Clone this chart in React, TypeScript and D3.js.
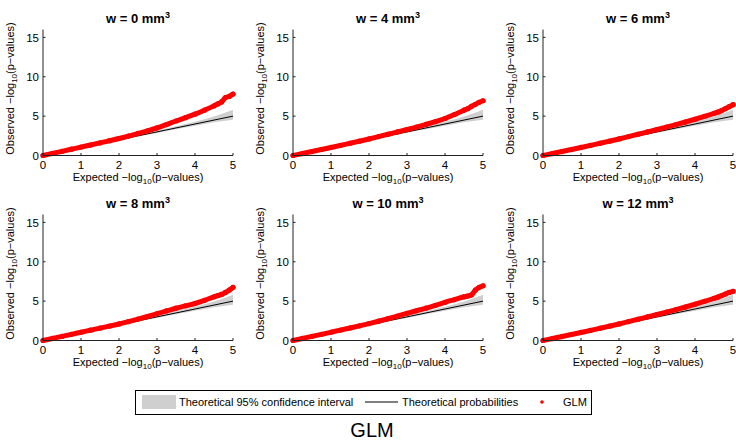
import React from "react";
import * as d3 from "d3";

// ---- data ----
const PANEL_W = ["0", "4", "6", "8", "10", "12"];
const EXPECTED = [0, 0.25, 0.5, 0.75, 1, 1.25, 1.5, 1.75, 2, 2.25, 2.5, 2.75, 3, 3.25, 3.5, 3.75, 4, 4.25, 4.5, 4.6, 4.7, 4.8, 4.9, 5];
const OBS_W0 = [0, 0.27, 0.53, 0.8, 1.07, 1.33, 1.6, 1.88, 2.16, 2.47, 2.8, 3.13, 3.5, 3.93, 4.38, 4.8, 5.25, 5.75, 6.3, 6.55, 6.8, 7.35, 7.5, 7.8];
const OBS_W4 = [0, 0.25, 0.5, 0.76, 1.02, 1.28, 1.55, 1.82, 2.1, 2.4, 2.7, 3.0, 3.3, 3.6, 3.95, 4.3, 4.7, 5.2, 5.75, 5.95, 6.25, 6.5, 6.75, 6.95];
const OBS_W6 = [0, 0.25, 0.5, 0.76, 1.02, 1.28, 1.55, 1.82, 2.1, 2.4, 2.7, 3.0, 3.3, 3.6, 3.92, 4.25, 4.6, 4.97, 5.35, 5.5, 5.7, 5.95, 6.2, 6.45];
const OBS_W8 = [0, 0.26, 0.52, 0.78, 1.05, 1.31, 1.57, 1.83, 2.1, 2.4, 2.72, 3.05, 3.4, 3.75, 4.1, 4.4, 4.7, 5.1, 5.55, 5.7, 5.85, 6.1, 6.4, 6.75];
const OBS_W10 = [0, 0.26, 0.52, 0.78, 1.05, 1.32, 1.59, 1.86, 2.15, 2.45, 2.77, 3.1, 3.45, 3.78, 4.1, 4.47, 4.85, 5.2, 5.55, 5.65, 5.8, 6.4, 6.75, 6.95];
const OBS_W12 = [0, 0.25, 0.5, 0.76, 1.02, 1.28, 1.55, 1.82, 2.1, 2.4, 2.7, 3.0, 3.3, 3.6, 3.92, 4.25, 4.6, 4.97, 5.35, 5.5, 5.7, 5.9, 6.1, 6.25];
const OBSERVED = [OBS_W0, OBS_W4, OBS_W6, OBS_W8, OBS_W10, OBS_W12];
const CI_X = [0, 0.5, 1, 1.5, 2, 2.5, 3, 3.5, 4, 4.5, 5];
const CI_UPPER = [0.05, 0.55, 1.07, 1.58, 2.1, 2.62, 3.15, 3.72, 4.3, 4.95, 5.8];
const CI_LOWER = [0, 0.47, 0.95, 1.43, 1.9, 2.38, 2.85, 3.32, 3.78, 4.22, 4.55];
const REF_X = [0, 5];
const X_TICKS = [0, 1, 2, 3, 4, 5];
const Y_TICKS = [0, 5, 10, 15];

const FONT = "'Liberation Sans', Arial, Helvetica, sans-serif";
const COL_LEFT = [43, 293, 543];
const ROW_BOTTOM = [155.5, 340.5];
const PW = 190;
const PH = 126;

function Panel({ idx }: { idx: number }) {
  const left = COL_LEFT[idx % 3];
  const bottom = ROW_BOTTOM[Math.floor(idx / 3)];
  const x = d3.scaleLinear().domain([0, 5]).range([left, left + PW]);
  const y = d3.scaleLinear().domain([0, 16]).range([bottom, bottom - PH]);
  const obs = OBSERVED[idx];
  const pts = EXPECTED.map((e, i) => [e, obs[i]] as [number, number]);
  const line = d3.line<[number, number]>().x(d => x(d[0])).y(d => y(d[1])).curve(d3.curveMonotoneX);
  const area = d3.area<number>().x(d => x(d)).y0((d, i) => y(CI_LOWER[i])).y1((d, i) => y(CI_UPPER[i])).curve(d3.curveMonotoneX);
  const cx = left + PW / 2;
  return (
    <g>
      <text x={cx} y={bottom - 133} textAnchor="middle" fontFamily={FONT} fontSize={13} fontWeight="bold">
        w = {PANEL_W[idx]} mm<tspan fontSize={9} dy={-5}>3</tspan>
      </text>
      <path d={area(CI_X) || ""} fill="#cfcfcf" stroke="none" />
      <path d={d3.line<number>().x(d => x(d)).y(d => y(d))(REF_X) || ""} stroke="#000" strokeWidth={1} fill="none" />
      <path d={line(pts) || ""} stroke="#ff0000" strokeWidth={5} fill="none" strokeLinecap="round" strokeLinejoin="round" />
      {pts.map((p, i) => (
        <circle key={i} cx={x(p[0])} cy={y(p[1])} r={2.6} fill="#ff0000" />
      ))}
      <line x1={left} x2={left} y1={y(16)} y2={bottom} stroke="#222" strokeWidth={1} />
      <line x1={left} x2={left + PW} y1={bottom} y2={bottom} stroke="#222" strokeWidth={1} />
      {X_TICKS.map(t => (
        <g key={"x" + t}>
          <line x1={x(t)} x2={x(t)} y1={bottom} y2={bottom - 2.5} stroke="#222" />
          <text x={x(t)} y={bottom + 13} textAnchor="middle" fontFamily={FONT} fontSize={11.5}>{t}</text>
        </g>
      ))}
      {Y_TICKS.map(t => (
        <g key={"y" + t}>
          <line x1={left} x2={left + 2.5} y1={y(t)} y2={y(t)} stroke="#222" />
          <text x={left - 4} y={y(t) + 4.2} textAnchor="end" fontFamily={FONT} fontSize={11.5}>{t}</text>
        </g>
      ))}
      <text x={cx} y={bottom + 25.5} textAnchor="middle" fontFamily={FONT} fontSize={11}>
        Expected −log<tspan fontSize={8} dy={3}>10</tspan><tspan dy={-3}>(p−values)</tspan>
      </text>
      <text transform={`translate(${left - 29},${bottom - 67}) rotate(-90)`} textAnchor="middle" fontFamily={FONT} fontSize={11}>
        Observed −log<tspan fontSize={8} dy={3}>10</tspan><tspan dy={-3}>(p−values)</tspan>
      </text>
    </g>
  );
}

export default function App() {
  return (
    <svg width={736} height={440} style={{ position: "absolute", left: 0, top: 0, background: "#fff" }}>
      <rect x={0} y={0} width={736} height={440} fill="#fff" />
      {PANEL_W.map((_, i) => (
        <Panel key={i} idx={i} />
      ))}
      <g>
        <rect x={135.5} y={390.5} width={456} height={24} fill="#fff" stroke="#000" strokeWidth={1} />
        <rect x={142} y={395} width={34} height={14} fill="#cfcfcf" />
        <text x={179} y={406} fontFamily={FONT} fontSize={11}>Theoretical 95% confidence interval</text>
        <line x1={365} x2={398} y1={402} y2={402} stroke="#000" strokeWidth={1} />
        <text x={402} y={406} fontFamily={FONT} fontSize={11}>Theoretical probabilities</text>
        <circle cx={542} cy={402} r={1.8} fill="#ff0000" />
        <text x={563} y={406} fontFamily={FONT} fontSize={11}>GLM</text>
      </g>
      <text x={372} y={437} textAnchor="middle" fontFamily={FONT} fontSize={20}>GLM</text>
    </svg>
  );
}
